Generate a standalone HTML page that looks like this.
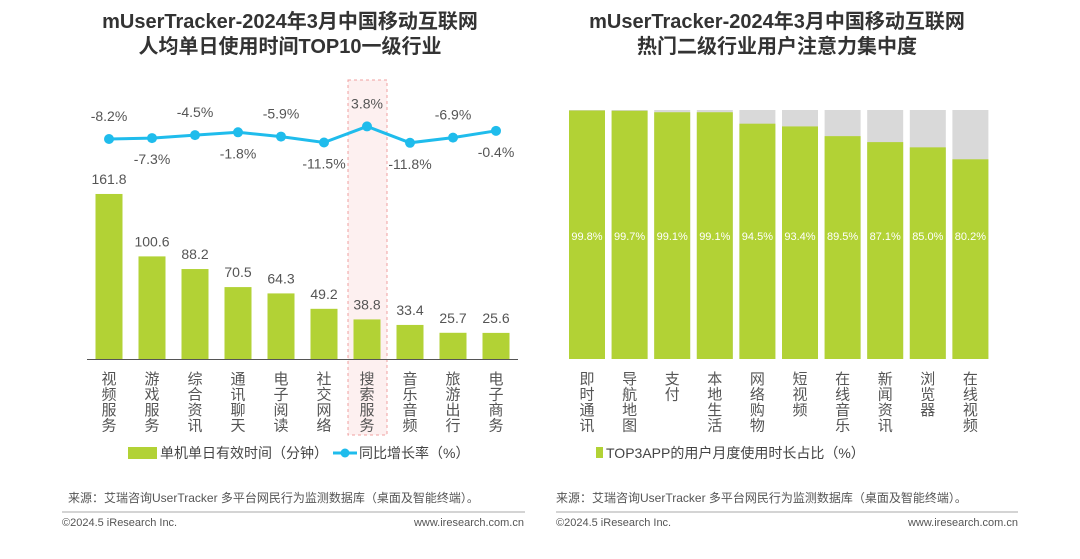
<!DOCTYPE html>
<html><head><meta charset="utf-8"><style>
body{margin:0;background:#fff;width:1080px;height:554px;overflow:hidden;font-family:"Liberation Sans","Noto Sans CJK SC",sans-serif}
svg text{font-family:"Liberation Sans","Noto Sans CJK SC",sans-serif}
</style></head><body>
<svg id="c" width="1080" height="554">
<text x="290" y="28" text-anchor="middle" font-size="20" font-weight="bold" fill="#333">mUserTracker-2024年3月中国移动互联网</text>
<text x="290" y="53" text-anchor="middle" font-size="20" font-weight="bold" fill="#333">人均单日使用时间TOP10一级行业</text>
<text x="777" y="28" text-anchor="middle" font-size="20" font-weight="bold" fill="#333">mUserTracker-2024年3月中国移动互联网</text>
<text x="777" y="53" text-anchor="middle" font-size="20" font-weight="bold" fill="#333">热门二级行业用户注意力集中度</text>
<rect x="348" y="80" width="39" height="355" fill="#fdf0f0" stroke="#f0a0a0" stroke-dasharray="3,3"/>
<g id="L"></g><g id="R"></g>
<line x1="87" y1="359.5" x2="518" y2="359.5" stroke="#555" stroke-width="1"/>
<rect x="128" y="447" width="29" height="12" fill="#b2d235"/>
<text x="160" y="458" font-size="14" fill="#444">单机单日有效时间（分钟）</text>
<line x1="333" y1="453" x2="357" y2="453" stroke="#1fbcec" stroke-width="3"/>
<circle cx="345" cy="453" r="4.5" fill="#1fbcec"/>
<text x="359" y="458" font-size="14" fill="#444">同比增长率（%）</text>
<rect x="596" y="447" width="7" height="11" fill="#b2d235"/>
<text x="606" y="458" font-size="14" fill="#444">TOP3APP的用户月度使用时长占比（%）</text>
<text x="68" y="502" font-size="12" fill="#555">来源：艾瑞咨询UserTracker 多平台网民行为监测数据库（桌面及智能终端）。</text>
<text x="556" y="502" font-size="12" fill="#555">来源：艾瑞咨询UserTracker 多平台网民行为监测数据库（桌面及智能终端）。</text>
<line x1="62" y1="512" x2="525" y2="512" stroke="#aaa"/>
<line x1="556" y1="512" x2="1018" y2="512" stroke="#aaa"/>
<text x="62" y="526" font-size="11" fill="#555">©2024.5 iResearch Inc.</text>
<text x="524" y="526" font-size="11" fill="#555" text-anchor="end">www.iresearch.com.cn</text>
<text x="556" y="526" font-size="11" fill="#555">©2024.5 iResearch Inc.</text>
<text x="1018" y="526" font-size="11" fill="#555" text-anchor="end">www.iresearch.com.cn</text>
</svg>
<script>
const leftCats=["视频服务","游戏服务","综合资讯","通讯聊天","电子阅读","社交网络","搜索服务","音乐音频","旅游出行","电子商务"];
const minutes=[161.8,100.6,88.2,70.5,64.3,49.2,38.8,33.4,25.7,25.6];
const growth=[-8.2,-7.3,-4.5,-1.8,-5.9,-11.5,3.8,-11.8,-6.9,-0.4];
const rightCats=["即时通讯","导航地图","支付","本地生活","网络购物","短视频","在线音乐","新闻资讯","浏览器","在线视频"];
const share=[99.8,99.7,99.1,99.1,94.5,93.4,89.5,87.1,85.0,80.2];
const NS="http://www.w3.org/2000/svg";
function mk(p,t,a){const e=document.createElementNS(NS,t);for(const k in a)e.setAttribute(k,a[k]);p.appendChild(e);return e;}
const Lg=document.getElementById('L'),Rg=document.getElementById('R');
const lx=i=>109+i*43, ly=v=>359-v*1.02, gy=v=>130.4-v*1.05;
function vlabel(g,x,text,y0){[...text].forEach((ch,k)=>{const t=mk(g,'text',{x:x,y:y0+k*15.5,'text-anchor':'middle','font-size':15,fill:'#555'});t.textContent=ch;});}
minutes.forEach((v,i)=>{
 const r=mk(Lg,'rect',{x:lx(i)-13.5,y:ly(v),width:27,height:359-ly(v),fill:'#b2d235'});
 
 
 const t=mk(Lg,'text',{x:lx(i),y:ly(v)-10,'text-anchor':'middle','font-size':14,fill:'#555'});t.textContent=v.toFixed(1);
 
 
 vlabel(Lg,lx(i),leftCats[i],384);
});
const pts=growth.map((v,i)=>lx(i)+','+gy(v)).join(' ');
const pl=mk(Lg,'polyline',{points:pts,fill:'none',stroke:'#1fbcec','stroke-width':3});


growth.forEach((v,i)=>{
 const c=mk(Lg,'circle',{cx:lx(i),cy:gy(v),r:5,fill:'#1fbcec'});
 
 
 const above=i%2===0;
 const t=mk(Lg,'text',{x:lx(i),y:above?gy(v)-18:gy(v)+26,'text-anchor':'middle','font-size':14,fill:'#555'});
 t.textContent=v.toFixed(1)+'%';
 
 
});
const rx=i=>587+i*42.6, barTop=110, barBot=359, rh=barBot-barTop;
share.forEach((v,i)=>{
 const g=mk(Rg,'rect',{x:rx(i)-18,y:barTop,width:36,height:rh,fill:'#d9d9d9'});
 
 
 const h=rh*v/100;
 const b=mk(Rg,'rect',{x:rx(i)-18,y:barBot-h,width:36,height:h,fill:'#b2d235'});
 
 
 const t=mk(Rg,'text',{x:rx(i),y:240,'text-anchor':'middle','font-size':11,fill:'#fff'});t.textContent=v.toFixed(1)+'%';
 
 
 vlabel(Rg,rx(i),rightCats[i],384);
});
</script>
</body></html>
